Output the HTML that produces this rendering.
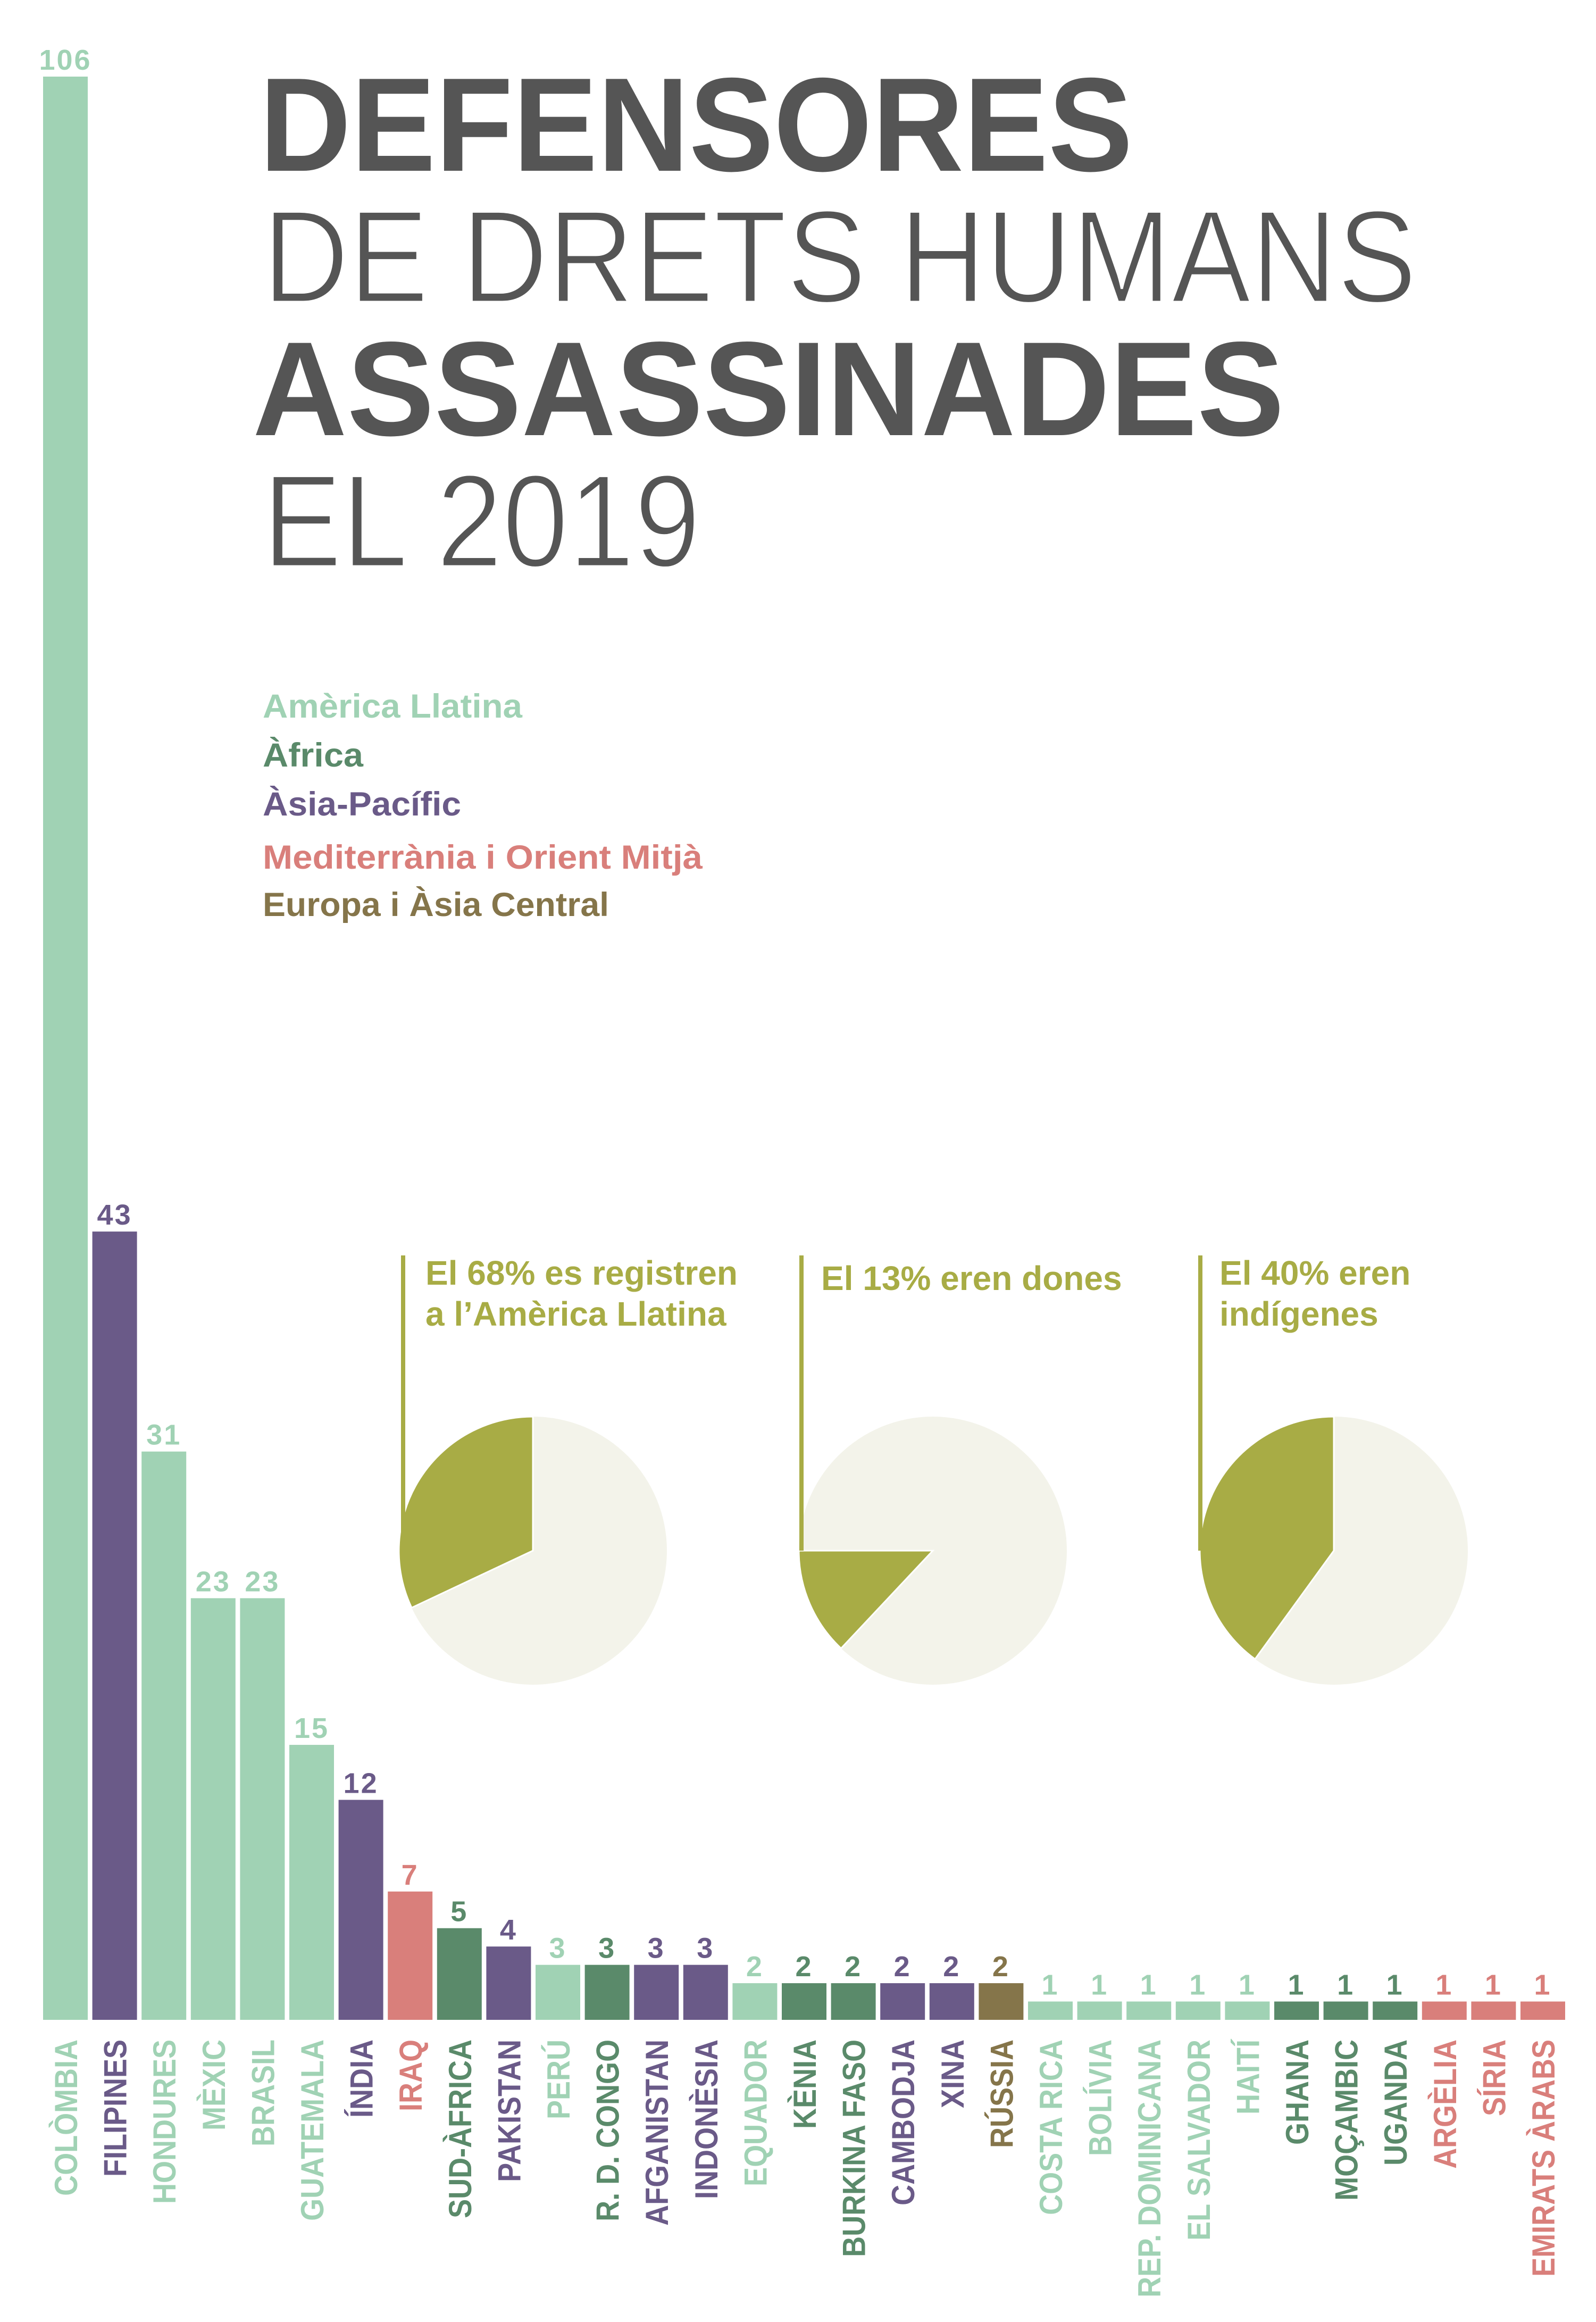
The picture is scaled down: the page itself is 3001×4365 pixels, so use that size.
<!DOCTYPE html>
<html><head><meta charset="utf-8"><style>
html,body{margin:0;padding:0;background:#fff;}
svg{display:block;}
text{font-family:"Liberation Sans",sans-serif;}
</style></head><body>
<svg id="chart" width="3001" height="4365" viewBox="0 0 3001 4365" xmlns="http://www.w3.org/2000/svg">
<rect width="3001" height="4365" fill="#fff"/>
<g fill="#555555">
<text x="488" y="321" font-size="251" font-weight="700" textLength="1642" lengthAdjust="spacingAndGlyphs">DEFENSORES</text>
<text x="494" y="568" font-size="248" font-weight="400" textLength="2170" lengthAdjust="spacingAndGlyphs" stroke="#fff" stroke-width="5" paint-order="fill">DE DRETS HUMANS</text>
<text x="475" y="818" font-size="252" font-weight="700" textLength="1940" lengthAdjust="spacingAndGlyphs">ASSASSINADES</text>
<text x="494" y="1065" font-size="248" font-weight="400" textLength="823" lengthAdjust="spacingAndGlyphs" stroke="#fff" stroke-width="5" paint-order="fill">EL 2019</text>
</g>
<g font-size="63" font-weight="700">
<text x="494" y="1349" fill="#a0d2b4" textLength="488" lengthAdjust="spacingAndGlyphs">Amèrica Llatina</text>
<text x="494" y="1441" fill="#5a8a6a" textLength="189" lengthAdjust="spacingAndGlyphs">Àfrica</text>
<text x="494" y="1533" fill="#6a5a88" textLength="373" lengthAdjust="spacingAndGlyphs">Àsia-Pacífic</text>
<text x="494" y="1633" fill="#d97f7b" textLength="827" lengthAdjust="spacingAndGlyphs">Mediterrània i Orient Mitjà</text>
<text x="494" y="1722" fill="#85754a" textLength="651" lengthAdjust="spacingAndGlyphs">Europa i Àsia Central</text>
</g>
<g id="pies"></g>
<g id="bars"></g>
</svg>
<script>
const countries = ["COLÒMBIA","FILIPINES","HONDURES","MÈXIC","BRASIL","GUATEMALA","ÍNDIA","IRAQ","SUD-ÀFRICA","PAKISTAN","PERÚ","R. D. CONGO","AFGANISTAN","INDONÈSIA","EQUADOR","KÈNIA","BURKINA FASO","CAMBODJA","XINA","RÚSSIA","COSTA RICA","BOLÍVIA","REP. DOMINICANA","EL SALVADOR","HAITÍ","GHANA","MOÇAMBIC","UGANDA","ARGÈLIA","SÍRIA","EMIRATS ÀRABS"];
const values = [106,43,31,23,23,15,12,7,5,4,3,3,3,3,2,2,2,2,2,2,1,1,1,1,1,1,1,1,1,1,1];
const regions = ["am","as","am","am","am","am","as","me","af","as","am","af","as","as","am","af","af","as","as","eu","am","am","am","am","am","af","af","af","me","me","me"];
const pieShares = [68,13,40];
const pieLines1 = ["El 68% es registren","El 13% eren dones","El 40% eren"];
const pieLines2 = ["a l’Amèrica Llatina","","indígenes"];

const NS="http://www.w3.org/2000/svg";
const colors={am:"#a0d2b4",af:"#5a8a6a",as:"#6a5a88",me:"#d97f7b",eu:"#85754a"};
const base=3797, unit=(3797-144)/106, x0=81, pitch=92.6, bw=84;
const yScale=v=>base-v*unit;
const xScale=i=>x0+i*pitch;
function mk(tag,attrs,parent){const e=document.createElementNS(NS,tag);for(const k in attrs)e.setAttribute(k,attrs[k]);parent.appendChild(e);return e;}
const bars=document.getElementById('bars');
values.forEach((v,i)=>{
  const c=colors[regions[i]], x=xScale(i), y=yScale(v);
  const r=mk('rect',{x:x,y:y,width:bw,height:base-y,fill:c},bars);
  
  
  const t=mk('text',{x:x+bw/2,y:y-13,'text-anchor':'middle','font-size':54,'font-weight':700,fill:c,'letter-spacing':3},bars);
  t.textContent=v;
  
  
  const cx=x+bw/2+22;
  const l=mk('text',{transform:`translate(${cx},3834) rotate(-90) scale(0.9,1)`,'text-anchor':'end','font-size':60,'font-weight':700,fill:c},bars);
  l.textContent=countries[i];
  
  
});
const pies=document.getElementById('pies');
const pcx=[1002,1754,2508], pcy=2915, pr=252;
const lineX=[758,1507,2257], textX=[800,1544,2293];
const startAng=[0,270,0];
pieShares.forEach((s,i)=>{
  const g=mk('g',{},pies);
  
  
  const bg=mk('circle',{cx:pcx[i],cy:pcy,r:pr,fill:"#f3f3ea"},g);
  
  
  const olive = i===0 ? 100-s : s;
  const a0=startAng[i]*Math.PI/180, a1=(startAng[i]-olive*3.6)*Math.PI/180;
  const p=(a)=>[pcx[i]+pr*Math.sin(a), pcy-pr*Math.cos(a)];
  const [x1,y1]=p(a0),[x2,y2]=p(a1);
  const large=olive>50?1:0;
  const sl=mk('path',{d:`M${pcx[i]},${pcy} L${x1},${y1} A${pr},${pr} 0 ${large} 0 ${x2},${y2} Z`,fill:"#a8ac45",stroke:"#fff","stroke-width":3},g);
  
  
  const ln=mk('rect',{x:lineX[i]-4,y:2360,width:8,height:pcy-2360,fill:"#a8ac45"},g);
  
  
  const y1t = i===1 ? 2425 : 2415;
  const t1=mk('text',{x:textX[i],y:y1t,'font-size':64,'font-weight':700,fill:"#a8ac45"},g);
  t1.textContent=pieLines1[i];
  
  
  if(pieLines2[i]){
    const t2=mk('text',{x:textX[i],y:2492,'font-size':64,'font-weight':700,fill:"#a8ac45"},g);
    t2.textContent=pieLines2[i];
    
    
  }
});
</script>
</body></html>
